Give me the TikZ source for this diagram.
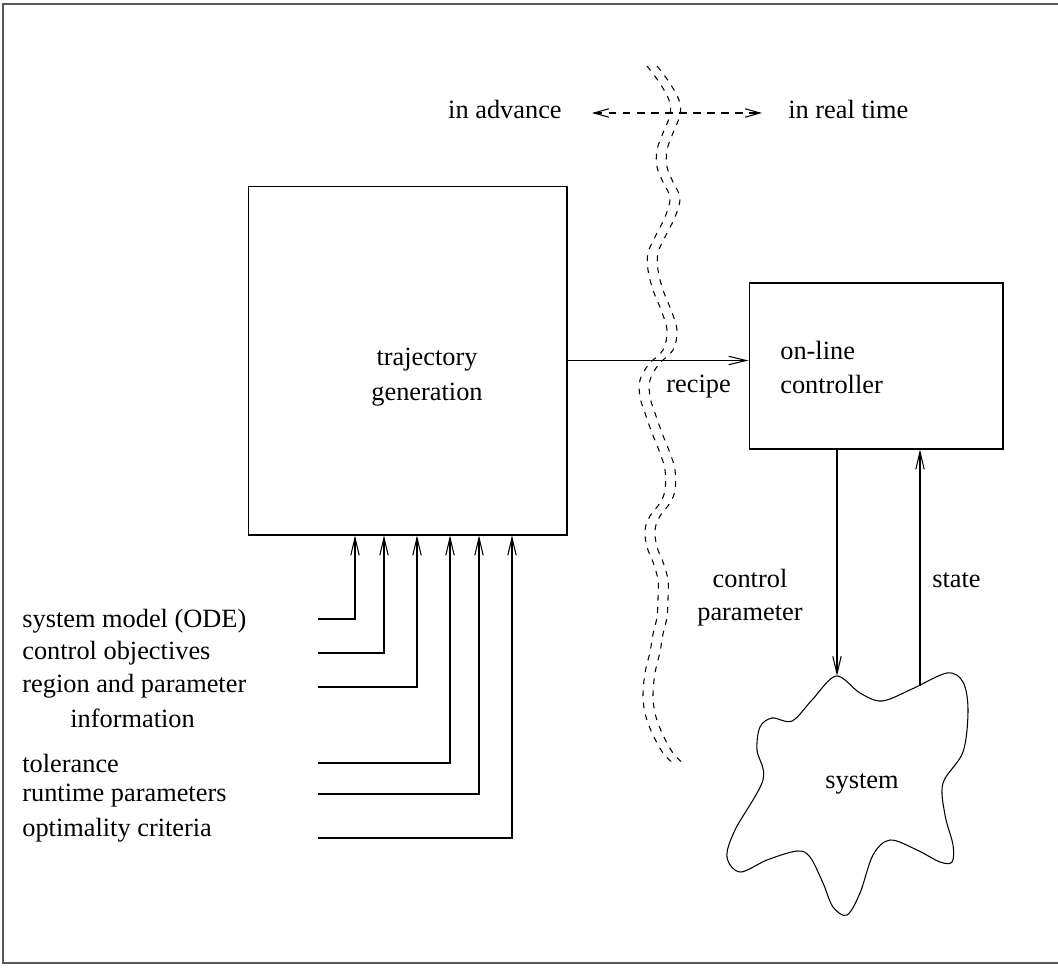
\documentclass[tikz,border=0pt]{standalone}
\usepackage{fontspec}
\setmainfont{Liberation Serif}
\usetikzlibrary{arrows.meta,calc}
% centre line of the wavy separator
\newcommand\separatorpts{
  (652,66) (664,82) (674,100) (675,115) (668,133) (662,150) (662,167)
  (668,182) (675,198) (670,217) (660,237) (653,253) (653,270) (658,290)
  (666,310) (672,330) (668,350) (654,364) (645,380) (645,397) (650,413)
  (657,433) (665,453) (670,470) (670,490) (665,503) (655,516) (650,530)
  (652,547) (658,562) (663,580) (663,598) (662,617) (658,634) (655,652)
  (650,673) (648,697) (651,717) (658,735) (668,753) (680,765)}
\begin{document}
\begin{tikzpicture}[x=0.02cm,y=-0.02cm,
  lbl/.style={font=\fontsize{15}{18}\selectfont, inner sep=0pt},
  box/.style={draw, line width=0.6pt, inner sep=0pt},
  arr/.style={line width=0.6pt, -{Straight Barb[length=10pt,width=4.8pt]}},
  dblarr/.style={line width=0.6pt, dash pattern=on 4.5pt off 3.5pt,
    {Straight Barb[length=8.5pt,width=4.8pt]}-{Straight Barb[length=8.5pt,width=4.8pt]}},
  border/.style={line width=1.2pt, black!65},
  wave/.style={line width=0.6pt, dash pattern=on 3.3pt off 3.6pt}]
\useasboundingbox (0,0) rectangle (1058,967);

% outer frame
\draw[border] (1058,4) -- (3,4) -- (3,963) -- (1058,963);

% main blocks
\node[box, minimum width=6.38cm, minimum height=6.98cm] (tg) at (407.5,360.5) {};
\node[lbl] (tg1) at (427,360) {trajectory};
\node[lbl] (tg2) at (427,395) {generation};

\node[box, minimum width=5.08cm, minimum height=3.32cm] (ctrl) at (876,366) {};
\node[lbl, anchor=west] (ct1) at (780,350) {on-line};
\node[lbl, anchor=west] (ct2) at (780,384) {controller};

% time separation
\node[lbl, anchor=base east] (adv) at (562,118) {in advance};
\node[lbl, anchor=base west] (rt) at (788,118) {in real time};
\draw[dblarr] ($(adv.base east)+(30,-5)$) -- ($(rt.base west)+(-26,-5)$);

\draw[wave, xshift=-0.1cm] plot[smooth, tension=0.6] coordinates {\separatorpts};
\draw[wave, xshift=0.1cm] plot[smooth, tension=0.6] coordinates {\separatorpts};

% recipe
\draw[arr] (tg.east) -- (tg.east -| ctrl.west);
\node[lbl, anchor=base west] (rec) at (666,392) {recipe};

% system cloud
\draw[line width=0.6pt] plot[smooth cycle, tension=0.55] coordinates {
  (836,676) (860,693) (882,701) (912,689) (947,673) (963,682) (968,710)
  (963,752) (943,783) (945,815) (953,845) (952,862) (940,862) (917,850)
  (890,840) (873,855) (860,893) (847,915) (833,907) (823,883) (810,857)
  (797,851) (767,860) (740,872) (727,857) (735,830) (763,780) (757,750)
  (760,727) (772,718) (792,721) (812,700)};
\node[lbl, anchor=base west] (sys) at (825,788) {system};

\coordinate (stop) at (837,676);
\coordinate (sright) at (920,686);
\draw[arr] (ctrl.south -| stop) -- (stop);
\draw[arr] (sright) -- (sright |- ctrl.south);
\node[lbl, anchor=base] (cp1) at (750,587) {control};
\node[lbl, anchor=base] (cp2) at (750,620) {parameter};
\node[lbl, anchor=base west] (st) at (932,587) {state};

% inputs of trajectory generation
\node[lbl, anchor=west] (in1) at (22,621) {system model (ODE)};
\node[lbl, anchor=west] (in2) at (22,653) {control objectives};
\node[lbl, anchor=west] (in3) at (22,686) {region and parameter};
\node[lbl, anchor=west] (in3b) at (70,718) {information};
\node[lbl, anchor=west] (in4) at (22,763) {tolerance};
\node[lbl, anchor=west] (in5) at (22,796) {runtime parameters};
\node[lbl, anchor=west] (in6) at (22,830) {optimality criteria};

\coordinate (h1) at (318,619);
\coordinate (h2) at (318,653);
\coordinate (h3) at (318,687);
\coordinate (h4) at (318,763);
\coordinate (h5) at (318,794);
\coordinate (h6) at (318,838);
\draw[arr] (h1) -| (tg.south -| 355,0);
\draw[arr] (h2) -| (tg.south -| 384,0);
\draw[arr] (h3) -| (tg.south -| 417,0);
\draw[arr] (h4) -| (tg.south -| 450,0);
\draw[arr] (h5) -| (tg.south -| 479,0);
\draw[arr] (h6) -| (tg.south -| 512,0);
\end{tikzpicture}
\end{document}
